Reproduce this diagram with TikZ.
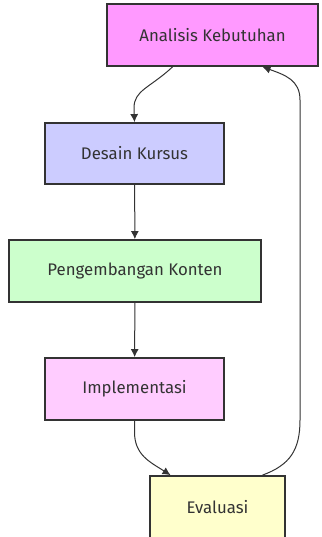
\documentclass[tikz,border=0pt]{standalone}
\usepackage{fontspec}
\setmainfont{Fira Sans}
\usepackage{xcolor}
\usepackage{tikz}
\usetikzlibrary{arrows.meta}

\definecolor{txt}{HTML}{333333}
\definecolor{cAnalisis}{HTML}{FF99FF}
\definecolor{cDesain}{HTML}{CCCCFF}
\definecolor{cKonten}{HTML}{CCFFCC}
\definecolor{cImpl}{HTML}{FFCCFF}
\definecolor{cEval}{HTML}{FFFFCC}

\begin{document}
\begin{tikzpicture}[x=1pt,y=-1pt,
  box/.style={draw=txt, line width=1.8pt, text=txt, inner sep=0pt,
    font=\fontsize{16.8}{20}\selectfont},
  flow/.style={draw=txt, line width=1pt, -{Latex[length=8pt,width=8pt]}}]
  \useasboundingbox (0,0) rectangle (321,537);
  % tahapan
  \node[box, fill=cAnalisis, minimum width=211pt, minimum height=62pt] (analisis) at (212.5,35) {Analisis Kebutuhan};
  \node[box, fill=cDesain, minimum width=179pt, minimum height=61pt] (desain) at (134.5,153.5) {Desain Kursus};
  \node[box, fill=cKonten, minimum width=252pt, minimum height=62pt] (konten) at (135,271) {Pengembangan Konten};
  \node[box, fill=cImpl, minimum width=179pt, minimum height=62pt] (impl) at (134.5,389) {Implementasi};
  \node[box, fill=cEval, minimum width=135pt, minimum height=62pt] (eval) at (217.5,507) {Evaluasi};
  % alur
  \draw[flow] ([xshift=-40pt]analisis.south) .. controls (150,88) and (134,90) .. (134,108) -- (desain.north);
  \draw[flow] (desain) -- (konten);
  \draw[flow] (konten) -- (impl);
  \draw[flow] (impl.south) -- (134.5,432) .. controls (134.5,455) and (150,462) .. ([xshift=-47pt]eval.north);
  \draw[flow] ([xshift=45pt]eval.north) .. controls (290,465) and (300,450) .. (300,420)
    -- (300,100) .. controls (300,80) and (285,75) .. ([xshift=50pt]analisis.south);
\end{tikzpicture}
\end{document}
